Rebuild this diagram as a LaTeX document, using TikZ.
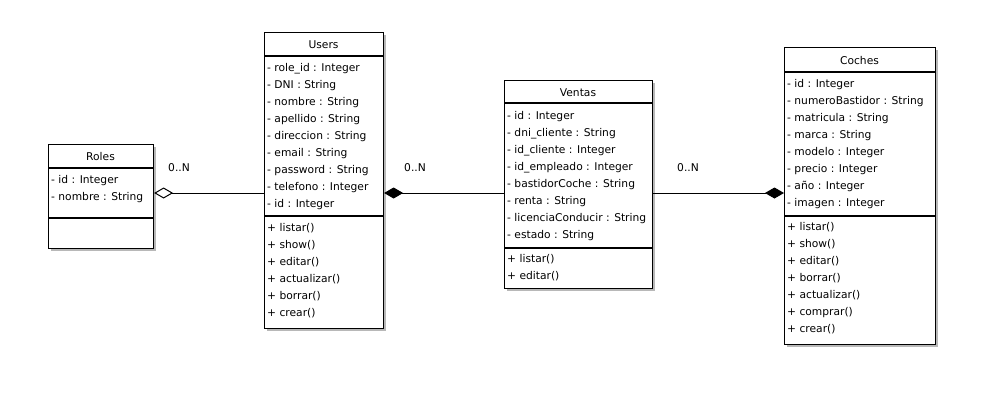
\documentclass[tikz,border=0pt]{standalone}
\usepackage{fontspec}
\setmainfont{DejaVu Sans}
\usetikzlibrary{arrows.meta,shadows}
\begin{document}
\begin{tikzpicture}[x=1pt,y=-1pt,
  every node/.style={font=\fontsize{10.7}{12}\selectfont, inner sep=0pt},
  umlbox/.style={draw=black, line width=1.1pt, fill=white, rectangle, anchor=north west,
    drop shadow={shadow xshift=2.5pt, shadow yshift=-2.5pt, fill=black!28, opacity=1}},
  umlsep/.style={draw=black, line width=1.1pt},
  member/.style={anchor=base west},
  classname/.style={anchor=base},
  mult/.style={anchor=base},
  link/.style={draw=black, line width=1pt},
  hollowdiamond/.style={-{Diamond[open, length=19pt, width=11pt, line width=1pt]}},
  soliddiamond/.style={-{Diamond[length=19pt, width=11pt]}},
]
\useasboundingbox (0,0) rectangle (983,408);
\fill[white] (0,0) rectangle (983,408);

% ---------- Roles ----------
\node[umlbox, minimum width=105pt, minimum height=104pt] (roles) at (48,144) {};
\draw[umlsep] (roles.west |- 0,168) -- (roles.east |- 0,168);
\draw[umlsep] (roles.west |- 0,218) -- (roles.east |- 0,218);
\node[classname] (rolestitle) at (100.5,160.5) {Roles};
\node[member] (ra1) at (51,183.5) {- id : Integer};
\node[member] (ra2) at (51,200.5) {- nombre : String};

% ---------- Users ----------
\node[umlbox, minimum width=119pt, minimum height=296pt] (users) at (264,32) {};
\draw[umlsep] (users.west |- 0,56) -- (users.east |- 0,56);
\draw[umlsep] (users.west |- 0,216) -- (users.east |- 0,216);
\node[classname] (userstitle) at (323.5,48.5) {Users};
\foreach \t [count=\i from 0] in {{- role\_id : Integer},{- DNI : String},{- nombre : String},
  {- apellido : String},{- direccion : String},{- email : String},{- password : String},
  {- telefono : Integer},{- id : Integer}}
  \node[member] (ua\i) at (267,71.5+17*\i) {\t};
\foreach \t [count=\i from 0] in {{+ listar()},{+ show()},{+ editar()},{+ actualizar()},
  {+ borrar()},{+ crear()}}
  \node[member] (um\i) at (267,231.5+17*\i) {\t};

% ---------- Ventas ----------
\node[umlbox, minimum width=148pt, minimum height=208pt] (ventas) at (504,80) {};
\draw[umlsep] (ventas.west |- 0,103) -- (ventas.east |- 0,103);
\draw[umlsep] (ventas.west |- 0,248) -- (ventas.east |- 0,248);
\node[classname] (ventastitle) at (578,96) {Ventas};
\foreach \t [count=\i from 0] in {{- id : Integer},{- dni\_cliente : String},
  {- id\_cliente : Integer},{- id\_empleado : Integer},{- bastidorCoche : String},
  {- renta : String},{- licenciaConducir : String},{- estado : String}}
  \node[member] (va\i) at (507,119.5+17*\i) {\t};
\node[member] (vm0) at (507,262.5) {+ listar()};
\node[member] (vm1) at (507,279.5) {+ editar()};

% ---------- Coches ----------
\node[umlbox, minimum width=151pt, minimum height=297pt] (coches) at (784,47) {};
\draw[umlsep] (coches.west |- 0,72) -- (coches.east |- 0,72);
\draw[umlsep] (coches.west |- 0,216) -- (coches.east |- 0,216);
\node[classname] (cochestitle) at (859.5,64) {Coches};
\foreach \t [count=\i from 0] in {{- id : Integer},{- numeroBastidor : String},
  {- matricula : String},{- marca : String},{- modelo : Integer},{- precio : Integer},
  {- año : Integer},{- imagen : Integer}}
  \node[member] (ca\i) at (787,87.5+17*\i) {\t};
\foreach \t [count=\i from 0] in {{+ listar()},{+ show()},{+ editar()},{+ borrar()},
  {+ actualizar()},{+ comprar()},{+ crear()}}
  \node[member] (cm\i) at (787,230.5+17*\i) {\t};

% ---------- Associations ----------
\draw[link, hollowdiamond] (users.west |- 0,193) -- (roles.east |- 0,193);
\draw[link, soliddiamond] (ventas.west |- 0,193) -- (users.east |- 0,193);
\draw[link, soliddiamond] (ventas.east |- 0,193) -- (coches.west |- 0,193);

\node[mult] (m1) at (179,171.5) {0..N};
\node[mult] (m2) at (415,171.5) {0..N};
\node[mult] (m3) at (688,171.5) {0..N};
\end{tikzpicture}
\end{document}
